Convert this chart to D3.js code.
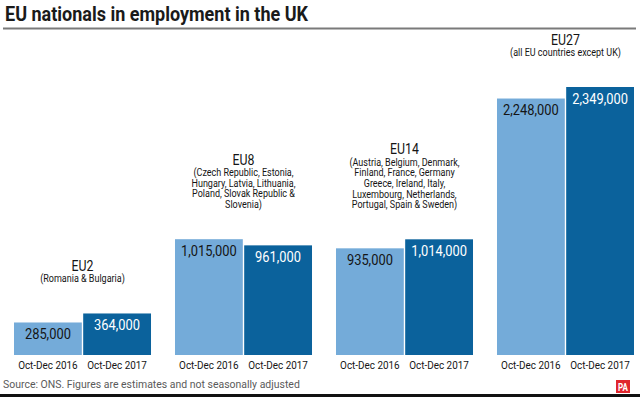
<!DOCTYPE html>
<html>
<head>
<meta charset="utf-8">
<script src="https://cdn.jsdelivr.net/npm/d3@7"></script>
<style>
  body { margin: 0; background: #fff; }
  svg { display: block; font-family: Roboto, "Noto Sans", sans-serif; }
</style>
</head>
<body>
<svg class="chart" width="640" height="397"></svg>
<script>
// data
var groups = ["EU2", "EU8", "EU14", "EU27"];
var periods = ["Oct-Dec 2016", "Oct-Dec 2017"];
var values2016 = [285000, 1015000, 935000, 2248000];
var values2017 = [364000, 961000, 1014000, 2349000];
var groupNotes = [
  ["(Romania & Bulgaria)"],
  ["(Czech Republic, Estonia,", "Hungary, Latvia, Lithuania,", "Poland, Slovak Republic &", "Slovenia)"],
  ["(Austria, Belgium, Denmark,", "Finland, France, Germany", "Greece, Ireland, Italy,", "Luxembourg, Netherlands,", "Portugal, Spain & Sweden)"],
  ["(all EU countries except UK)"]
];

var svg = d3.select(".chart"),
    width = +svg.attr("width"),
    height = +svg.attr("height");

var baseline = 355;

// squeeze text a little so Roboto looks like the condensed face in the original
function condense(sel, k) {
  sel.each(function() {
    var len = this.getComputedTextLength();
    d3.select(this)
      .attr("textLength", len * k)
      .attr("lengthAdjust", "spacingAndGlyphs");
  });
}

var x0 = d3.scaleBand()
    .domain(groups)
    .range([14, 634])
    .paddingInner(0.149)
    .paddingOuter(0);

var x1 = d3.scaleBand()
    .domain(periods)
    .range([0, x0.bandwidth()])
    .paddingInner(0.02);

var y = d3.scaleLinear()
    .domain([0, 2349000])
    .range([baseline, 87]);

var color = d3.scaleOrdinal()
    .domain(periods)
    .range(["#74abd9", "#0b629c"]);

var textColor = d3.scaleOrdinal()
    .domain(periods)
    .range(["#151515", "#ffffff"]);

var fmt = d3.format(",");

// title
svg.append("text")
    .attr("x", 5)
    .attr("y", 21)
    .attr("font-weight", "bold")
    .attr("font-size", 20)
    .attr("fill", "#1a1a1a")
    .text("EU nationals in employment in the UK")
    .call(condense, 0.9);

svg.append("line")
    .attr("x1", 3).attr("x2", 636)
    .attr("y1", 28.5).attr("y2", 28.5)
    .attr("stroke", "#7a7a7a")
    .attr("stroke-width", 2);

var rows = groups.map(function(g, i) {
  return {
    group: g,
    notes: groupNotes[i],
    bars: [
      { period: periods[0], value: values2016[i] },
      { period: periods[1], value: values2017[i] }
    ]
  };
});

var gg = svg.selectAll(".group")
  .data(rows)
  .enter().append("g")
    .attr("class", "group")
    .attr("transform", function(d) { return "translate(" + x0(d.group) + ",0)"; });

gg.selectAll("rect")
  .data(function(d) { return d.bars; })
  .enter().append("rect")
    .attr("x", function(d) { return x1(d.period); })
    .attr("width", x1.bandwidth())
    .attr("y", function(d) { return y(d.value); })
    .attr("height", function(d) { return baseline - y(d.value); })
    .attr("fill", function(d) { return color(d.period); });

gg.selectAll(".val")
  .data(function(d) { return d.bars; })
  .enter().append("text")
    .attr("class", "val")
    .attr("x", function(d) { return x1(d.period) + x1.bandwidth() / 2; })
    .attr("y", function(d) { return y(d.value) + 16.5; })
    .attr("text-anchor", "middle")
    .attr("font-size", 14)
    .attr("fill", function(d) { return textColor(d.period); })
    .text(function(d) { return fmt(d.value); })
    .call(condense, 0.92);

gg.selectAll(".period")
  .data(function(d) { return d.bars; })
  .enter().append("text")
    .attr("class", "period")
    .attr("x", function(d) { return x1(d.period) + x1.bandwidth() / 2; })
    .attr("y", 369)
    .attr("text-anchor", "middle")
    .attr("font-size", 11.5)
    .attr("fill", "#151515")
    .text(function(d) { return d.period; })
    .call(condense, 0.86);

// group headings sit above the taller bar
gg.each(function(d) {
  var g = d3.select(this);
  var top = y(d3.max(d.bars, function(b) { return b.value; }));
  var cx = x0.bandwidth() / 2;
  var lastLine = top - 31;
  var firstLine = lastLine - (d.notes.length - 1) * 10.7;
  g.append("text")
    .attr("x", cx)
    .attr("y", firstLine - 11.5)
    .attr("text-anchor", "middle")
    .attr("font-size", 14)
    .attr("fill", "#151515")
    .text(d.group)
    .call(condense, 0.88);
  g.selectAll(".note")
    .data(d.notes)
    .enter().append("text")
      .attr("class", "note")
      .attr("x", cx)
      .attr("y", function(n, i) { return firstLine + i * 10.7; })
      .attr("text-anchor", "middle")
      .attr("font-size", 10)
      .attr("fill", "#151515")
      .text(function(n) { return n; })
      .call(condense, 0.9);
});

// source + footer
svg.append("text")
    .attr("x", 3)
    .attr("y", 388)
    .attr("font-size", 11.5)
    .attr("fill", "#5a5a5a")
    .text("Source: ONS. Figures are estimates and not seasonally adjusted")
    .call(condense, 0.91);

svg.append("rect")
    .attr("x", 616).attr("y", 380)
    .attr("width", 14).attr("height", 13)
    .attr("fill", "#e0262d");

svg.append("text")
    .attr("x", 623).attr("y", 390.5)
    .attr("text-anchor", "middle")
    .attr("font-size", 10)
    .attr("font-weight", "bold")
    .attr("fill", "#fff")
    .text("PA")
    .call(condense, 0.8);

svg.append("rect")
    .attr("x", 0).attr("y", 394)
    .attr("width", width).attr("height", 3)
    .attr("fill", "#111");
</script>
</body>
</html>
